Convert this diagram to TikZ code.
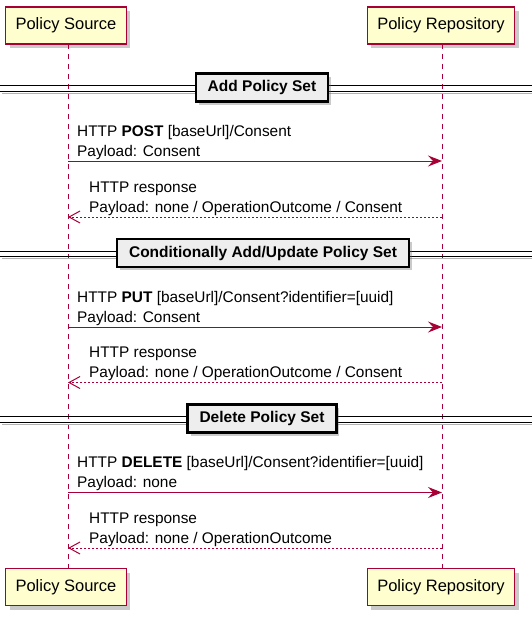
\documentclass[tikz,border=0pt]{standalone}
\usepackage{fontspec}
\setmainfont{Liberation Sans}
\usetikzlibrary{arrows.meta,shadows}

\definecolor{umlred}{HTML}{A80036}
\definecolor{umlyellow}{HTML}{FEFECE}
\definecolor{umlgrey}{HTML}{EEEEEE}

\tikzset{
  actor/.style={draw=umlred, fill=umlyellow, line width=1.5pt, inner xsep=10pt,
    minimum height=37pt, font=\fontsize{16.5}{20}\selectfont,
    drop shadow={shadow xshift=4pt, shadow yshift=-4pt, opacity=0.35, fill=black!60}},
  lifeline/.style={draw=umlred, line width=1pt, dash pattern=on 5pt off 5pt},
  divider/.style={draw=black, fill=umlgrey, line width=2.2pt, inner xsep=12pt,
    minimum height=28pt, font=\fontsize{15.5}{18}\selectfont\bfseries,
    drop shadow={shadow xshift=3pt, shadow yshift=-3pt, opacity=0.35, fill=black!60}},
  rule/.style={draw=black, line width=1pt},
  msg/.style={anchor=base west, align=left, inner sep=0pt,
    font=\fontsize{15.4}{20}\selectfont},
  call/.style={draw=umlred, line width=1pt, -{Stealth[length=14pt, width=11pt, inset=5pt]}},
  reply/.style={draw=umlred, line width=1pt, dash pattern=on 2pt off 2pt,
    -{Straight Barb[length=11pt, width=12pt, line width=1pt]}}
}

\begin{document}
\begin{tikzpicture}[x=1pt, y=-1pt]
\useasboundingbox (0,0) rectangle (532,622);

% participants
\node[actor] (srctop) at (66,25.5) {Policy Source};
\node[actor] (repotop) at (441,25.5) {Policy Repository};
\node[actor] (srcbot) at (66,587) {Policy Source};
\node[actor] (repobot) at (441,587) {Policy Repository};

% lifelines
\coordinate (srcup) at (68,44);
\coordinate (srcdown) at (68,568);
\coordinate (repoup) at (442,44);
\coordinate (repodown) at (442,568);
\draw[lifeline] (srcup) -- (srcdown);
\draw[lifeline] (repoup) -- (repodown);

% dividers
\foreach \y in {88.5,254,419.5} {
  \draw[black!30, line width=1pt] (2,\y+4.5) -- (532,\y+4.5);
  \draw[rule] (0,\y-2.7) -- (532,\y-2.7);
  \draw[rule] (0,\y+2.7) -- (532,\y+2.7);
}
\node[divider] (addset) at (262,87.5) {Add Policy Set};
\node[divider] (updset) at (263,253) {Conditionally Add/Update Policy Set};
\node[divider] (delset) at (262,418.5) {Delete Policy Set};

% add
\node[msg] (postmsg) at (77,156) {HTTP \textbf{POST} [baseUrl]/Consent\\Payload: Consent};
\coordinate (s1) at (68,161);
\coordinate (r1) at (442,161);
\draw[call] (s1) -- (r1);
\node[msg] (postresp) at (89,212) {HTTP response\\Payload: none / OperationOutcome / Consent};
\coordinate (s2) at (68,217);
\coordinate (r2) at (442,217);
\draw[reply] (r2) -- (s2);

% conditional add/update
\node[msg] (putmsg) at (77,322) {HTTP \textbf{PUT} [baseUrl]/Consent?identifier=[uuid]\\Payload: Consent};
\coordinate (s3) at (68,327);
\coordinate (r3) at (442,327);
\draw[call] (s3) -- (r3);
\node[msg] (putresp) at (89,377.5) {HTTP response\\Payload: none / OperationOutcome / Consent};
\coordinate (s4) at (68,382.5);
\coordinate (r4) at (442,382.5);
\draw[reply] (r4) -- (s4);

% delete
\node[msg] (delmsg) at (77,487.5) {HTTP \textbf{DELETE} [baseUrl]/Consent?identifier=[uuid]\\Payload: none};
\coordinate (s5) at (68,492.5);
\coordinate (r5) at (442,492.5);
\draw[call] (s5) -- (r5);
\node[msg] (delresp) at (89,543) {HTTP response\\Payload: none / OperationOutcome};
\coordinate (s6) at (68,548);
\coordinate (r6) at (442,548);
\draw[reply] (r6) -- (s6);
\end{tikzpicture}
\end{document}
